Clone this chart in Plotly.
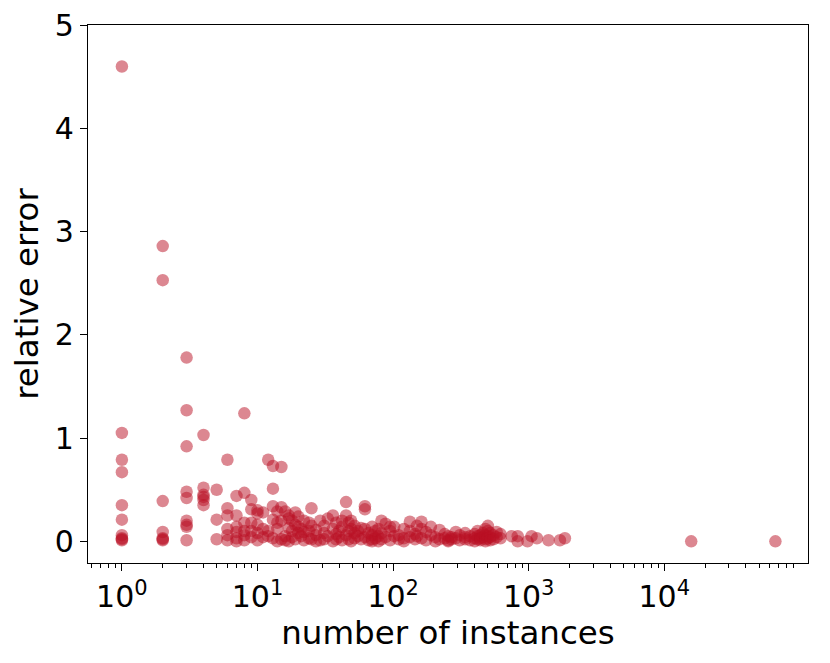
import plotly.graph_objects as go

# number of instances (x) and relative error (y)
x_instances = (
    [1]*10 + [2]*7 + [3]*9 + [4]*6 + [5]*3 + [6]*6 + [7]*6 + [8]*6 + [9]*5 + [10]*5
    + [11]*3 + [12]*3 + [13]*5 + [14]*4 + [15]*4 + [16]*3 + [17]*4 + [18]*3 + [19]*3 + [20]*3
    + [21]*2 + [22]*3 + [24]*3 + [25]*3 + [27]*3 + [29]*2 + [31]*3 + [33]*2 + [36]*3 + [38]*3
    + [40]*2 + [42]*3 + [45]*3 + [47]*3 + [49]*3 + [52]*3 + [55]*2 + [58]*2 + [62]*4 + [66]*2
    + [70]*4 + [74]*2 + [78]*3 + [82]*3 + [88]*2 + [95]*3 + [102]*2 + [110]*2 + [120]*3 + [133]*3
    + [145]*2 + [150]*2 + [162]*3 + [175]*2 + [190]*2 + [205]*2 + [220]*2 + [240]*2 + [255]*3 + [270]*2
    + [290]*2 + [310]*2 + [340]*3 + [370]*2 + [400]*3 + [420]*3 + [440]*3 + [460]*2 + [480]*4 + [500]*4
    + [520]*3 + [550]*2 + [580]*2 + [620]*2 + [750] + [830]*2 + [980] + [1050] + [1150] + [1400]
    + [1700] + [1850] + [15800] + [66000]
)

rel_error = [
    4.6, 1.05, 0.79, 0.67, 0.35, 0.21, 0.06, 0.03, 0.02, 0.01,
    2.86, 2.53, 0.39, 0.09, 0.03, 0.01, 0.02,
    1.78, 1.27, 0.92, 0.48, 0.42, 0.2, 0.16, 0.14, 0.01,
    1.03, 0.52, 0.45, 0.43, 0.40, 0.35,
    0.5, 0.21, 0.02,
    0.79, 0.32, 0.25, 0.12, 0.06, 0.01,
    0.44, 0.25, 0.14, 0.09, 0.03, 0.0,
    1.24, 0.47, 0.18, 0.1, 0.06, 0.01,
    0.4, 0.31, 0.18, 0.1, 0.04,
    0.3, 0.27, 0.16, 0.08, 0.01,
    0.28, 0.12, 0.04,
    0.79, 0.1, 0.05,
    0.73, 0.51, 0.34, 0.21, 0.03,
    0.29, 0.18, 0.12, 0.0,
    0.72, 0.33, 0.2, 0.02,
    0.29, 0.05, 0.01,
    0.25, 0.22, 0.13, 0.0,
    0.2, 0.1, 0.04,
    0.28, 0.16, 0.02,
    0.24, 0.14, 0.08,
    0.12, 0.05,
    0.2, 0.09, 0.01,
    0.18, 0.1, 0.03,
    0.32, 0.15, 0.02,
    0.11, 0.06, 0.0,
    0.2, 0.01,
    0.15, 0.08, 0.02,
    0.22, 0.05,
    0.25, 0.12, 0.0,
    0.18, 0.07, 0.02,
    0.1, 0.04,
    0.2, 0.14, 0.01,
    0.38, 0.25, 0.06,
    0.18, 0.1, 0.02,
    0.2, 0.12, 0.0,
    0.15, 0.08, 0.03,
    0.1, 0.05,
    0.13, 0.02,
    0.34, 0.31, 0.12, 0.04,
    0.08, 0.01,
    0.14, 0.06, 0.02, 0.0,
    0.1, 0.03,
    0.05, 0.0, 0.12,
    0.2, 0.08, 0.02,
    0.17, 0.04,
    0.14, 0.1, 0.01,
    0.14, 0.05,
    0.06, 0.02,
    0.12, 0.03, 0.0,
    0.19, 0.1, 0.04,
    0.07, 0.02,
    0.15, 0.05,
    0.19, 0.12, 0.03,
    0.09, 0.01,
    0.14, 0.06,
    0.04, 0.0,
    0.11, 0.02,
    0.07, 0.03,
    0.05, 0.01, 0.0,
    0.02, 0.04,
    0.09, 0.03,
    0.06, 0.01,
    0.04, 0.02, 0.08,
    0.05, 0.01,
    0.07, 0.03, 0.0,
    0.1, 0.05, 0.02,
    0.06, 0.03, 0.01,
    0.08, 0.04,
    0.12, 0.06, 0.02, 0.0,
    0.15, 0.1, 0.05, 0.03,
    0.08, 0.04, 0.01,
    0.06, 0.02,
    0.09, 0.04,
    0.07, 0.03,
    0.05,
    0.05, 0.0,
    0.0,
    0.05,
    0.03,
    0.01,
    0.01,
    0.03,
    0.0,
    0.0,
]

x_tickvals = [1, 10, 100, 1000, 10000]
x_ticktext = ["10<sup>0</sup>", "10<sup>1</sup>", "10<sup>2</sup>", "10<sup>3</sup>", "10<sup>4</sup>"]
y_tickvals = [0, 1, 2, 3, 4, 5]

# minor log ticks at 2..9 of each decade
minor_vals = [m * 10 ** d for d in range(-1, 6) for m in range(2, 10)]

FONT = "DejaVu Sans"

fig = go.Figure(
    go.Scatter(
        x=x_instances,
        y=rel_error,
        mode="markers",
        marker=dict(size=12.5, color="rgba(185,15,35,0.5)", line=dict(width=0)),
        showlegend=False,
    )
)

fig.update_layout(
    width=830,
    height=663,
    margin=dict(l=80, r=30, t=17, b=108, autoexpand=False),
    plot_bgcolor="white",
    paper_bgcolor="white",
    font=dict(family=FONT, color="black", size=30),
)

fig.update_xaxes(
    type="log",
    range=[-0.25, 5.06],
    tickvals=x_tickvals,
    ticktext=x_ticktext,
    ticks="outside",
    ticklen=7,
    tickwidth=1.3,
    tickcolor="black",
    showline=True,
    linecolor="black",
    linewidth=1.3,
    mirror=True,
    showgrid=False,
    zeroline=False,
    automargin=False,
    ticklabeloverflow="allow",
    tickfont=dict(size=30),
    title=dict(text="number of instances", font=dict(size=32.5), standoff=4),
    minor=dict(tickvals=minor_vals, ticks="outside", ticklen=4, tickwidth=1, tickcolor="black", showgrid=False),
)

fig.update_yaxes(
    range=[-0.21, 5.002],
    tickvals=y_tickvals,
    ticks="outside",
    ticklen=7,
    tickwidth=1.3,
    tickcolor="black",
    showline=True,
    linecolor="black",
    linewidth=1.3,
    mirror=True,
    showgrid=False,
    zeroline=False,
    automargin=False,
    ticklabeloverflow="allow",
    tickfont=dict(size=30),
    title=dict(text="relative error", font=dict(size=32.5), standoff=8),
)

fig.write_html("out.html")
